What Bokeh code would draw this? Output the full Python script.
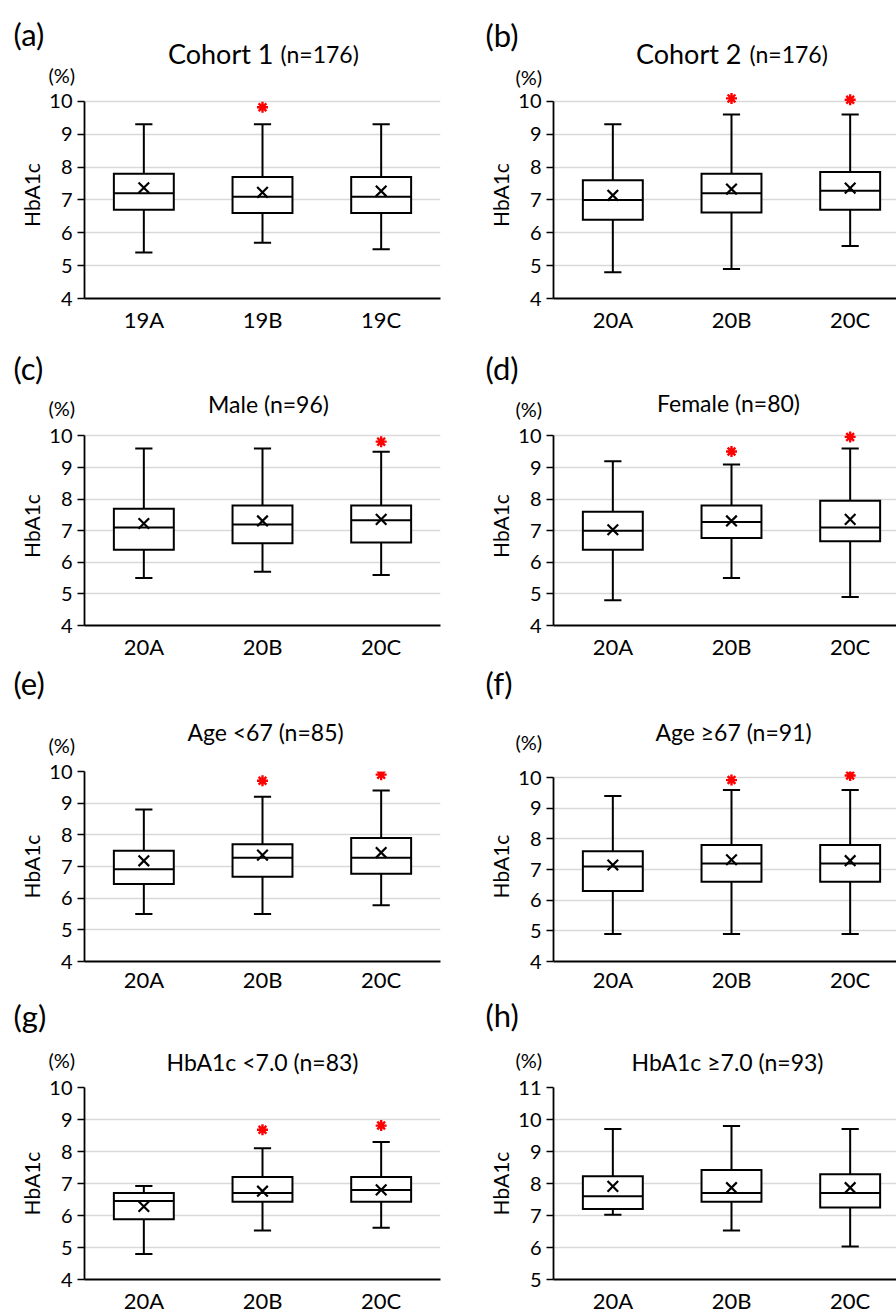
from bokeh.plotting import figure
from bokeh.layouts import column, row
from bokeh.models import FixedTicker, Range1d
from bokeh.core.properties import value
from bokeh.embed import file_html
from bokeh.resources import INLINE

FONT = "Lato"

cats_19 = ["19A", "19B", "19C"]
cats_20 = ["20A", "20B", "20C"]
ticks_4_10 = [4, 5, 6, 7, 8, 9, 10]
ticks_5_11 = [5, 6, 7, 8, 9, 10, 11]

# (a) Cohort 1
a_top = [9.3, 9.3, 9.3]
a_q3 = [7.8, 7.7, 7.7]
a_med = [7.2, 7.1, 7.1]
a_q1 = [6.7, 6.6, 6.6]
a_low = [5.4, 5.7, 5.5]
a_mean = [7.37, 7.23, 7.27]
a_sig_cat = ["19B"]
a_sig_y = [9.82]

# (b) Cohort 2
b_top = [9.3, 9.6, 9.6]
b_q3 = [7.6, 7.8, 7.85]
b_med = [7.0, 7.2, 7.28]
b_q1 = [6.4, 6.62, 6.7]
b_low = [4.8, 4.9, 5.6]
b_mean = [7.14, 7.33, 7.36]
b_sig_cat = ["20B", "20C"]
b_sig_y = [10.09, 10.05]

# (c) Male
c_top = [9.6, 9.6, 9.5]
c_q3 = [7.7, 7.8, 7.8]
c_med = [7.1, 7.2, 7.33]
c_q1 = [6.4, 6.6, 6.63]
c_low = [5.5, 5.7, 5.6]
c_mean = [7.23, 7.31, 7.36]
c_sig_cat = ["20C"]
c_sig_y = [9.82]

# (d) Female
d_top = [9.2, 9.1, 9.6]
d_q3 = [7.6, 7.8, 7.95]
d_med = [7.0, 7.28, 7.1]
d_q1 = [6.4, 6.77, 6.67]
d_low = [4.8, 5.5, 4.9]
d_mean = [7.03, 7.31, 7.36]
d_sig_cat = ["20B", "20C"]
d_sig_y = [9.51, 9.97]

# (e) Age <67
e_top = [8.8, 9.2, 9.4]
e_q3 = [7.5, 7.7, 7.9]
e_med = [6.91, 7.28, 7.28]
e_q1 = [6.45, 6.68, 6.77]
e_low = [5.5, 5.5, 5.78]
e_mean = [7.18, 7.36, 7.44]
e_sig_cat = ["20B", "20C"]
e_sig_y = [9.71, 9.9]

# (f) Age >=67
f_top = [9.4, 9.6, 9.6]
f_q3 = [7.6, 7.8, 7.8]
f_med = [7.1, 7.2, 7.2]
f_q1 = [6.3, 6.6, 6.6]
f_low = [4.9, 4.9, 4.9]
f_mean = [7.15, 7.32, 7.29]
f_sig_cat = ["20B", "20C"]
f_sig_y = [9.92, 10.07]

# (g) HbA1c <7.0
g_top = [6.92, 8.1, 8.3]
g_q3 = [6.7, 7.2, 7.2]
g_med = [6.45, 6.7, 6.8]
g_q1 = [5.88, 6.43, 6.43]
g_low = [4.8, 5.53, 5.62]
g_mean = [6.28, 6.76, 6.8]
g_sig_cat = ["20B", "20C"]
g_sig_y = [8.68, 8.81]

# (h) HbA1c >=7.0
h_top = [9.7, 9.8, 9.7]
h_q3 = [8.23, 8.42, 8.29]
h_med = [7.6, 7.7, 7.7]
h_q1 = [7.2, 7.43, 7.25]
h_low = [7.02, 6.53, 6.03]
h_mean = [7.91, 7.87, 7.87]
h_sig_cat = []
h_sig_y = []

BOX_W = 0.505
CAP_W = 0.145
PX_PER_CAT = 356 / 3.0
LETTER = 31
PCT = 20
SUB = 23


def make_header(top, bottom, texts):
    """A text strip covering the full page width; ranges are page pixels."""
    p = figure(width=896, height=bottom - top, output_backend="svg",
               toolbar_location=None, x_range=Range1d(0, 896),
               y_range=Range1d(bottom, top), x_axis_type=None, y_axis_type=None,
               min_border=0, background_fill_color="white",
               border_fill_color="white")
    p.outline_line_color = None
    p.grid.visible = False
    for (txt, px, py, size, align, base) in texts:
        p.text(x=[px], y=[py], text=[txt], text_font=value(FONT),
               text_font_size=value(f"{size}px"), text_color="black",
               text_align=value(align), text_baseline=value(base))
    return p


def make_panel(side, row_top, row_h, ft, fb, y0, y1, ticks, cats,
               top, q3, med, q1, low, mean, sig_cat, sig_y, x_standoff=7):
    if side == "L":
        fx0, fw, fl, fr = 0, 448, 84, 440
    else:
        fx0, fw, fl, fr = 448, 448, 553, 896
    xr0 = 0.5
    xr1 = 0.5 + (fr - fl) / PX_PER_CAT
    p = figure(width=fw, height=row_h, output_backend="svg", toolbar_location=None,
               x_range=Range1d(xr0, xr1), y_range=Range1d(y0, y1),
               min_border_left=fl - fx0, min_border_right=fx0 + fw - fr,
               min_border_top=ft - row_top, min_border_bottom=row_top + row_h - fb,
               background_fill_color="white", border_fill_color="white")
    p.outline_line_color = None

    xs = [i + 1 for i in range(len(cats))]

    # grid
    p.xgrid.visible = False
    p.ygrid.ticker = FixedTicker(ticks=ticks[1:])
    p.ygrid.grid_line_color = "#d9d9d9"
    p.ygrid.grid_line_width = 1.3

    # y axis
    ya = p.yaxis[0]
    ya.ticker = FixedTicker(ticks=ticks)
    ya.bounds = (ticks[0], ticks[-1])
    ya.axis_line_color = "black"
    ya.axis_line_width = 1.8
    ya.major_tick_line_color = "black"
    ya.major_tick_line_width = 1.5
    ya.major_tick_out = 7
    ya.major_tick_in = 0
    ya.minor_tick_line_color = None
    ya.major_label_text_font = FONT
    ya.major_label_text_font_size = "20px"
    ya.major_label_text_color = "black"
    ya.major_label_standoff = 5
    ya.axis_label = "HbA1c"
    ya.axis_label_text_font = FONT
    ya.axis_label_text_font_size = "21px"
    ya.axis_label_text_font_style = "normal"
    ya.axis_label_text_color = "black"
    ya.axis_label_standoff = 2

    # x axis
    xa = p.xaxis[0]
    xa.ticker = FixedTicker(ticks=xs)
    xa.major_label_overrides = {x: c for x, c in zip(xs, cats)}
    xa.axis_line_color = "black"
    xa.axis_line_width = 2.2
    xa.major_tick_line_color = None
    xa.major_tick_out = 0
    xa.major_tick_in = 0
    xa.minor_tick_line_color = None
    xa.major_label_text_font = FONT
    xa.major_label_text_font_size = "22px"
    xa.major_label_text_color = "black"
    xa.major_label_standoff = x_standoff

    lw = 2.0
    # whiskers
    p.segment(x0=xs, y0=q3, x1=xs, y1=top, line_color="black", line_width=lw)
    p.segment(x0=xs, y0=low, x1=xs, y1=q1, line_color="black", line_width=lw)
    p.segment(x0=[x - CAP_W / 2 for x in xs], x1=[x + CAP_W / 2 for x in xs],
              y0=top, y1=top, line_color="black", line_width=lw)
    p.segment(x0=[x - CAP_W / 2 for x in xs], x1=[x + CAP_W / 2 for x in xs],
              y0=low, y1=low, line_color="black", line_width=lw)
    # boxes
    p.quad(left=[x - BOX_W / 2 for x in xs], right=[x + BOX_W / 2 for x in xs],
           top=q3, bottom=q1, fill_color="white", line_color="black",
           line_width=lw, line_join="miter")
    # medians
    p.segment(x0=[x - BOX_W / 2 for x in xs], x1=[x + BOX_W / 2 for x in xs],
              y0=med, y1=med, line_color="black", line_width=lw)
    # means
    p.scatter(x=xs, y=mean, marker="x", size=15, line_color="black", line_width=2.2)
    # significance asterisks
    if sig_cat:
        sx = [cats.index(c) + 1 for c in sig_cat]
        p.scatter(x=sx, y=sig_y, marker="asterisk", size=11, line_color="#ff0000",
                  line_width=2.4)
    return p


# ---- row 1 ----
h1 = make_header(0, 88, [
    ("(a)", 13, 33, LETTER, "left", "middle"),
    ("Cohort 1", 273, 53, 27, "right", "alphabetic"),
    ("(n=176)", 280, 53, 23, "left", "alphabetic"),
    ("(%)", 48, 74, PCT, "left", "middle"),
    ("(b)", 485, 34, LETTER, "left", "middle"),
    ("Cohort 2", 741, 53, 27, "right", "alphabetic"),
    ("(n=176)", 749, 53, 23, "left", "alphabetic"),
    ("(%)", 515, 76, PCT, "left", "middle"),
])
pa = make_panel("L", 88, 252, 91, 298, 4, 10.3, ticks_4_10, cats_19,
                a_top, a_q3, a_med, a_q1, a_low, a_mean, a_sig_cat, a_sig_y)
pb = make_panel("R", 88, 252, 91, 298, 4, 10.3, ticks_4_10, cats_20,
                b_top, b_q3, b_med, b_q1, b_low, b_mean, b_sig_cat, b_sig_y)

# ---- row 2 ----
h2 = make_header(340, 420, [
    ("(c)", 13, 367, LETTER, "left", "middle"),
    ("Male (n=96)", 268, 403, SUB, "center", "middle"),
    ("(%)", 48, 407, PCT, "left", "middle"),
    ("(d)", 485, 367, LETTER, "left", "middle"),
    ("Female (n=80)", 728, 402, SUB, "center", "middle"),
    ("(%)", 515, 408, PCT, "left", "middle"),
])
pc = make_panel("L", 420, 242, 426, 626, 4, 10.3, ticks_4_10, cats_20,
                c_top, c_q3, c_med, c_q1, c_low, c_mean, c_sig_cat, c_sig_y)
pd_ = make_panel("R", 420, 242, 426, 626, 4, 10.3, ticks_4_10, cats_20,
                 d_top, d_q3, d_med, d_q1, d_low, d_mean, d_sig_cat, d_sig_y)

# ---- row 3 ----
h3 = make_header(662, 756, [
    ("(e)", 13, 682, LETTER, "left", "middle"),
    ("Age <67 (n=85)", 265, 731, SUB, "center", "middle"),
    ("(%)", 48, 744, PCT, "left", "middle"),
    ("(f)", 485, 682, LETTER, "left", "middle"),
    ("Age \u226567 (n=91)", 733, 731, SUB, "center", "middle"),
    ("(%)", 515, 741, PCT, "left", "middle"),
])
pe = make_panel("L", 756, 239, 771, 963, 4, 10.0, ticks_4_10, cats_20,
                e_top, e_q3, e_med, e_q1, e_low, e_mean, e_sig_cat, e_sig_y,
                x_standoff=4)
pf = make_panel("R", 756, 239, 763, 963, 4, 10.2, ticks_4_10, cats_20,
                f_top, f_q3, f_med, f_q1, f_low, f_mean, f_sig_cat, f_sig_y,
                x_standoff=4)

# ---- row 4 ----
h4 = make_header(995, 1075, [
    ("(g)", 13, 1015, LETTER, "left", "middle"),
    ("HbA1c <7.0 (n=83)", 262, 1061, SUB, "center", "middle"),
    ("(%)", 48, 1059, PCT, "left", "middle"),
    ("(h)", 485, 1014, LETTER, "left", "middle"),
    ("HbA1c \u22657.0 (n=93)", 727, 1061, SUB, "center", "middle"),
    ("(%)", 515, 1059, PCT, "left", "middle"),
])
pg = make_panel("L", 1075, 241, 1087, 1281, 4, 10.0, ticks_4_10, cats_20,
                g_top, g_q3, g_med, g_q1, g_low, g_mean, g_sig_cat, g_sig_y)
ph = make_panel("R", 1075, 241, 1087, 1281, 5, 11.0, ticks_5_11, cats_20,
                h_top, h_q3, h_med, h_q1, h_low, h_mean, h_sig_cat, h_sig_y)

layout = column(h1, row(pa, pb, spacing=0),
                h2, row(pc, pd_, spacing=0),
                h3, row(pe, pf, spacing=0),
                h4, row(pg, ph, spacing=0), spacing=0)

open("out.html", "w").write(file_html(layout, INLINE))
